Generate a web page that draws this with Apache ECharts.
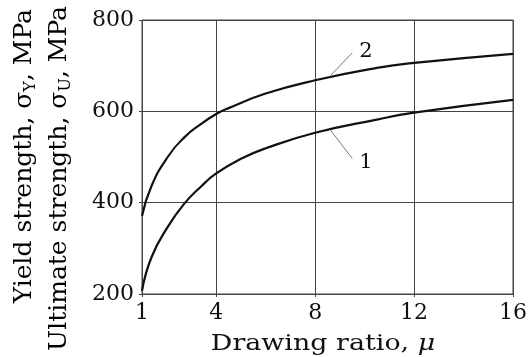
<!DOCTYPE html>
<html>
<head>
<meta charset="utf-8">
<script src="https://cdn.jsdelivr.net/npm/echarts@6/dist/echarts.min.js"></script>
<style>html,body{margin:0;padding:0;background:#fff;}#c{width:530px;height:357px;}</style>
</head>
<body>
<div id="c"></div>
<script>
// Data
const xTicks = [1, 4, 8, 12, 16];
const yTicks = [200, 400, 600, 800];
const muU = [1, 1.38, 2.04, 2.71, 3.38, 4, 4.5, 6, 8, 10.5, 12, 16];
const sigmaU = [371, 436, 500, 543, 572, 594, 607, 639, 668, 695, 706, 726];   // curve 2
const muY = [1, 1.38, 2.04, 2.71, 3.38, 4, 5, 6, 8, 10.5, 12, 16];
const sigmaY = [207, 280, 347, 398, 435, 464, 496, 519, 553, 582, 597, 625];  // curve 1
const curveLabels = ['1', '2'];
const leader2 = [[8.63, 679], [9.5, 728]];
const leader1 = [[8.63, 558], [9.5, 497]];
const labelPos2 = [10.05, 731];
const labelPos1 = [10.05, 487];

const pairs = (xs, ys) => xs.map((x, i) => [x, ys[i]]);
const serif = 'DejaVu Serif';
const chart = echarts.init(document.getElementById('c'));
chart.setOption({
  animation: false,
  grid: { left: 142, right: 13, top: 20, bottom: 63, show: true, borderColor: '#444', borderWidth: 1 },
  xAxis: {
    type: 'value', min: 1, max: 16,
    axisLine: { show: false },
    axisTick: { show: true, customValues: xTicks, length: 3, lineStyle: { color: '#444' } },
    axisLabel: { customValues: xTicks, fontFamily: serif, fontSize: 22, color: '#111', margin: 8 },
    splitLine: { show: true, customValues: xTicks, lineStyle: { color: '#444', width: 1 } }
  },
  yAxis: {
    type: 'value', min: 200, max: 800, interval: 200,
    axisLine: { show: false },
    axisTick: { show: true, length: 3, lineStyle: { color: '#444' } },
    axisLabel: { fontFamily: serif, fontSize: 22, color: '#111', margin: 8, padding: [4, 0, 0, 0],
      formatter: v => yTicks.includes(v) ? String(v) : '' },
    splitLine: { show: true, lineStyle: { color: '#444', width: 1 } }
  },
  series: [
    { type: 'line', data: pairs(muU, sigmaU), smooth: 0.5, symbol: 'none',
      lineStyle: { color: '#111', width: 2.2 },
      markLine: { silent: true, symbol: 'none', animation: false,
        lineStyle: { color: '#555', width: 0.8, type: 'solid' }, label: { show: false },
        data: [[{ coord: leader2[0] }, { coord: leader2[1] }]] },
      markPoint: { symbol: 'circle', symbolSize: 1, itemStyle: { color: 'rgba(0,0,0,0)' },
        label: { show: true, position: 'inside', formatter: curveLabels[1], fontFamily: serif, fontSize: 21, color: '#111' },
        data: [{ coord: labelPos2 }] }
    },
    { type: 'line', data: pairs(muY, sigmaY), smooth: 0.5, symbol: 'none',
      lineStyle: { color: '#111', width: 2.2 },
      markLine: { silent: true, symbol: 'none', animation: false,
        lineStyle: { color: '#555', width: 0.8, type: 'solid' }, label: { show: false },
        data: [[{ coord: leader1[0] }, { coord: leader1[1] }]] },
      markPoint: { symbol: 'circle', symbolSize: 1, itemStyle: { color: 'rgba(0,0,0,0)' },
        label: { show: true, position: 'inside', formatter: curveLabels[0], fontFamily: serif, fontSize: 21, color: '#111' },
        data: [{ coord: labelPos1 }] }
    }
  ],
  graphic: [
    { type: 'text', x: 24, y: 9, rotation: Math.PI / 2,
      style: { text: '{a|Yield strength, σ}{s|Y}{a|, MPa}', align: 'right', verticalAlign: 'middle',
        rich: { a: { fontFamily: serif, fontSize: 25, color: '#111', lineHeight: 30 },
                s: { fontFamily: serif, fontSize: 16, color: '#111', verticalAlign: 'bottom', lineHeight: 18 } } } },
    { type: 'text', x: 59, y: 6, rotation: Math.PI / 2,
      style: { text: '{a|Ultimate strength, σ}{s|U}{a|, MPa}', align: 'right', verticalAlign: 'middle',
        rich: { a: { fontFamily: serif, fontSize: 25, color: '#111', lineHeight: 30 },
                s: { fontFamily: serif, fontSize: 16, color: '#111', verticalAlign: 'bottom', lineHeight: 18 } } } },
    { type: 'text', x: 323, y: 344, scaleX: 1.17,
      style: { text: 'Drawing ratio, {m|μ}', align: 'center', verticalAlign: 'middle',
        fontFamily: serif, fontSize: 23, fill: '#111',
        rich: { m: { fontFamily: serif, fontStyle: 'italic', fontSize: 23, color: '#111' } } } }
  ]
});
</script>
</body>
</html>
